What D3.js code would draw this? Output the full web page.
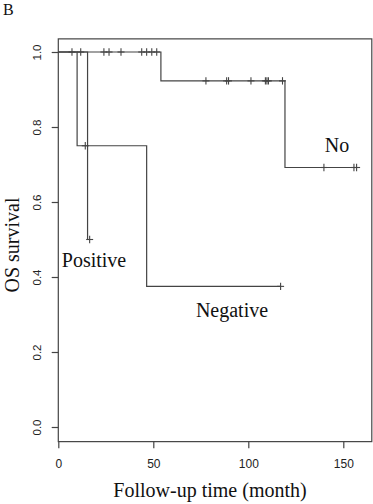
<!DOCTYPE html>
<html>
<head>
<meta charset="utf-8">
<script src="https://cdn.jsdelivr.net/npm/d3@7"></script>
<style>
  body { margin: 0; background: #fff; }
  svg { display: block; }
</style>
</head>
<body>
<svg id="chart" width="373" height="504"></svg>
<script>
// Kaplan-Meier steps: [month, survival]
const groups = ['No', 'Positive', 'Negative'];
const noSteps = [[0, 1], [54, 0.923], [119.3, 0.692]];
const noCensor = [7.2, 11.8, 24, 26.7, 33, 43.9, 46.5, 49.2, 51.8,
  77.7, 88.6, 89.6, 101.4, 109, 109.8, 110.6, 118, 139.8, 155.6, 157];
const positiveSteps = [[0, 1], [15.4, 0.5]];
const positiveCensor = [16.5];
const negativeSteps = [[0, 1], [9.9, 0.75], [46.5, 0.375]];
const negativeCensor = [14.2, 117];
const xTicks = [0, 50, 100, 150];
const yTicks = [0, 0.2, 0.4, 0.6, 0.8, 1.0];

const curves = [
  { name: groups[0], steps: noSteps, censor: noCensor, label: [337, 152] },
  { name: groups[1], steps: positiveSteps, censor: positiveCensor, label: [94, 267] },
  { name: groups[2], steps: negativeSteps, censor: negativeCensor, label: [232, 317] }
];

const svg = d3.select('#chart');
const ink = '#444';

const x = d3.scaleLinear().domain([0, 165]).range([58.3, 371.8]);
const y = d3.scaleLinear().domain([0, 1]).range([427, 52]);

// plot frame
svg.append('rect')
  .attr('x', x(0))
  .attr('y', y(1.035))
  .attr('width', x(165) - x(0))
  .attr('height', y(-0.039) - y(1.035))
  .attr('fill', 'none')
  .attr('stroke', ink)
  .attr('stroke-width', 1.2);

// x axis
const xAxis = svg.append('g')
  .attr('transform', 'translate(0,' + y(-0.039) + ')')
  .call(d3.axisBottom(x).tickValues(xTicks).tickSize(6.5).tickPadding(11));
xAxis.select('.domain').remove();
xAxis.selectAll('line').attr('stroke', ink).attr('stroke-width', 1.2);
xAxis.selectAll('text')
  .style('font-family', '"Liberation Sans", Arial, sans-serif')
  .style('font-size', '12px')
  .attr('fill', '#222');

// y axis, labels rotated like R's default
const yAxis = svg.append('g')
  .attr('transform', 'translate(' + x(0) + ',0)')
  .call(d3.axisLeft(y).tickValues(yTicks).tickFormat(d3.format('.1f')).tickSize(6.6));
yAxis.select('.domain').remove();
yAxis.selectAll('line').attr('stroke', ink).attr('stroke-width', 1.2);
yAxis.selectAll('text')
  .attr('transform', 'rotate(-90)')
  .attr('x', 0)
  .attr('y', -21)
  .attr('dy', '0.35em')
  .attr('text-anchor', 'middle')
  .style('font-family', '"Liberation Sans", Arial, sans-serif')
  .style('font-size', '11.5px')
  .attr('fill', '#222');

// survival step at time t
function survAt(steps, t) {
  let s = steps[0][1];
  steps.forEach(d => { if (d[0] <= t) s = d[1]; });
  return s;
}

const line = d3.line()
  .x(d => x(d[0]))
  .y(d => y(d[1]))
  .curve(d3.curveStepAfter);

curves.forEach(c => {
  const last = d3.max(c.censor);
  const pts = c.steps.concat([[last, c.steps[c.steps.length - 1][1]]]);
  svg.append('path')
    .attr('d', line(pts))
    .attr('fill', 'none')
    .attr('stroke', ink)
    .attr('stroke-width', 1.2);

  // censor marks (+)
  const g = svg.append('g');
  c.censor.forEach(t => {
    const cx = x(t), cy = y(survAt(c.steps, t));
    g.append('line')
      .attr('x1', cx).attr('x2', cx)
      .attr('y1', cy - 3.7).attr('y2', cy + 3.7)
      .attr('stroke', ink).attr('stroke-width', 1.1);
    g.append('line')
      .attr('x1', cx - 3.5).attr('x2', cx + 3.5)
      .attr('y1', cy).attr('y2', cy)
      .attr('stroke', ink).attr('stroke-width', 1.1);
  });

  svg.append('text')
    .attr('x', c.label[0])
    .attr('y', c.label[1])
    .attr('text-anchor', 'middle')
    .style('font-family', '"Liberation Serif", "Times New Roman", serif')
    .style('font-size', '20px')
    .attr('fill', '#111')
    .text(c.name);
});

// axis titles
svg.append('text')
  .attr('x', 210)
  .attr('y', 497)
  .attr('text-anchor', 'middle')
  .style('font-family', '"Liberation Serif", "Times New Roman", serif')
  .style('font-size', '20px')
  .attr('fill', '#111')
  .text('Follow-up time (month)');

svg.append('text')
  .attr('transform', 'translate(19,245) rotate(-90)')
  .attr('text-anchor', 'middle')
  .style('font-family', '"Liberation Serif", "Times New Roman", serif')
  .style('font-size', '20px')
  .attr('fill', '#111')
  .text('OS survival');

svg.append('text')
  .attr('x', 3)
  .attr('y', 15)
  .style('font-family', '"Liberation Serif", "Times New Roman", serif')
  .style('font-size', '16px')
  .attr('fill', '#111')
  .text('B');
</script>
</body>
</html>
